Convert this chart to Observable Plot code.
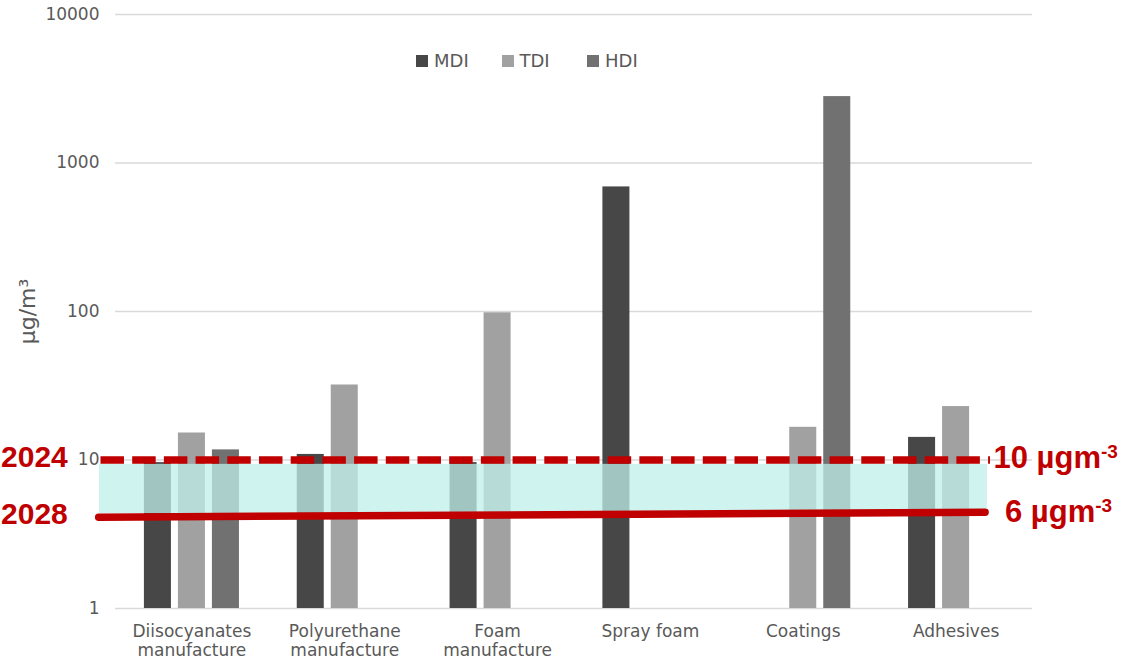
<!DOCTYPE html>
<html><head><meta charset="utf-8">
<script src="https://cdn.jsdelivr.net/npm/d3@7"></script>
<script src="https://cdn.jsdelivr.net/npm/@observablehq/plot@0.6"></script>
<style>
body{margin:0;background:#fff;}
#wrap{position:relative;width:1134px;height:660px;overflow:hidden;}
#legend{position:absolute;left:416px;top:50px;}
#legend > div{min-height:20px !important;height:20px;margin:0 !important;font-family:"DejaVu Sans",sans-serif !important;font-size:18px !important;color:#595959 !important;}
#legend span{width:85.5px !important;margin-right:0 !important;}
#legend svg{margin-right:6px !important;}
</style></head><body><div id="wrap"></div>
<script>
// ---- data ----
const categories = ["Diisocyanates\nmanufacture","Polyurethane\nmanufacture","Foam\nmanufacture","Spray foam","Coatings","Adhesives"];
const seriesNames = ["MDI","TDI","HDI"];
const mdiValues = [9.6, 10.9, 9.6, 690, null, 14.2];
const tdiValues = [15.2, 32, 98, null, 16.6, 22.9];
const hdiValues = [11.7, null, null, null, 2800, null];
const seriesColors = ["#474747","#a1a1a1","#717171"];
const yTicks = [1, 10, 100, 1000, 10000];
const yLabel = "µg/m³";
// annotation (limit values as drawn on the picture)
const limitYears = ["2024","2028"];
const limitYearY = [10.4, 4.33];
const limitTexts = ["10 µgm","6 µgm"];
const limitTextY = [10.3, 4.43];
const limitTextX = [5.745, 5.82];
const limitYearX = [-0.312, -0.312];
const dashedLimit = [10];
const dashedSpan = [-0.095, 5.725];
const solidLimitX = [-0.11, 5.69];
const solidLimitY = [4.12, 4.45];
const bandX = [-0.105, 5.705];
const bandY = [4.36, 9.35];

// ---- build tables ----
const seriesArrays = [mdiValues, tdiValues, hdiValues];
const table = [];
categories.forEach((c, i) => {
  seriesArrays.forEach((arr, j) => {
    if (arr[i] != null) table.push({cat: c, i, slot: j, series: seriesNames[j], value: arr[i]});
  });
});
const SLOT = 0.2225, HALF = 0.0884;
const solidLine = solidLimitX.map((x, k) => ({x, y: solidLimitY[k]}));
const band = [{x1: bandX[0], x2: bandX[1], y1: bandY[0], y2: bandY[1]}];
const years = limitYears.map((t, k) => ({t, x: limitYearX[k], y: limitYearY[k]}));
const rights = limitTexts.map((t, k) => ({t, x: limitTextX[k], y: limitTextY[k]}));
const red = "#c00000";
const redFont = "'Liberation Sans', Arial, sans-serif";

const plot = Plot.plot({
  width: 1134, height: 660,
  marginLeft: 115, marginRight: 102, marginTop: 14, marginBottom: 52,
  style: {fontFamily: "'DejaVu Sans', sans-serif", fontSize: "17px", color: "#595959", background: "white"},
  x: {domain: [0, 6], axis: null},
  y: {type: "log", domain: [1, 10000], ticks: yTicks, tickFormat: d => String(d), tickSize: 0, tickPadding: 16, label: null},
  color: {domain: seriesNames, range: seriesColors},
  marks: [
    Plot.ruleY(yTicks, {stroke: "#d9d9d9", strokeWidth: 1.6}),
    Plot.rect(table, {
      x1: d => d.i + 0.5 + (d.slot - 1) * SLOT - HALF,
      x2: d => d.i + 0.5 + (d.slot - 1) * SLOT + HALF,
      y1: 1, y2: "value", fill: "series"
    }),
    Plot.rect(band, {x1: "x1", x2: "x2", y1: "y1", y2: "y2", fill: "#bff0eb", fillOpacity: 0.75}),
    Plot.ruleY(dashedLimit, {x1: dashedSpan[0], x2: dashedSpan[1], stroke: red, strokeWidth: 7.5, strokeDasharray: "23.5,8.2"}),
    Plot.line(solidLine, {x: "x", y: "y", stroke: red, strokeWidth: 7.5}),
    Plot.text(categories, {x: (d, i) => i + 0.5, frameAnchor: "bottom", lineAnchor: "top", dy: 14, text: d => d, fontSize: 17, fill: "#595959", lineHeight: 1.16}),
    Plot.text([yLabel], {frameAnchor: "left", dx: -88, rotate: -90, textAnchor: "middle", lineAnchor: "middle", text: d => d, fontSize: 22, fill: "#595959"}),
    Plot.text(years, {x: "x", y: "y", text: "t", textAnchor: "end", fontSize: 30, fontWeight: "bold", fill: red, fontFamily: redFont}),
    Plot.text(rights, {x: "x", y: "y", text: "t", textAnchor: "start", fontSize: 31, fontWeight: "bold", fill: red, fontFamily: redFont})
  ]
});
const wrap = document.getElementById("wrap");
wrap.appendChild(plot);

// superscripts for the unit annotations
d3.select(plot).selectAll("text").filter(function() { return limitTexts.includes(this.textContent); })
  .each(function() {
    d3.select(this).append("tspan").attr("dy", "-10").attr("font-size", 19).text("-3");
  });

const leg = Plot.legend({color: {type: "ordinal", domain: seriesNames, range: seriesColors}, legend: "swatches", swatchSize: 12});
const ld = document.createElement("div");
ld.id = "legend";
ld.appendChild(leg);
wrap.appendChild(ld);
</script></body></html>
